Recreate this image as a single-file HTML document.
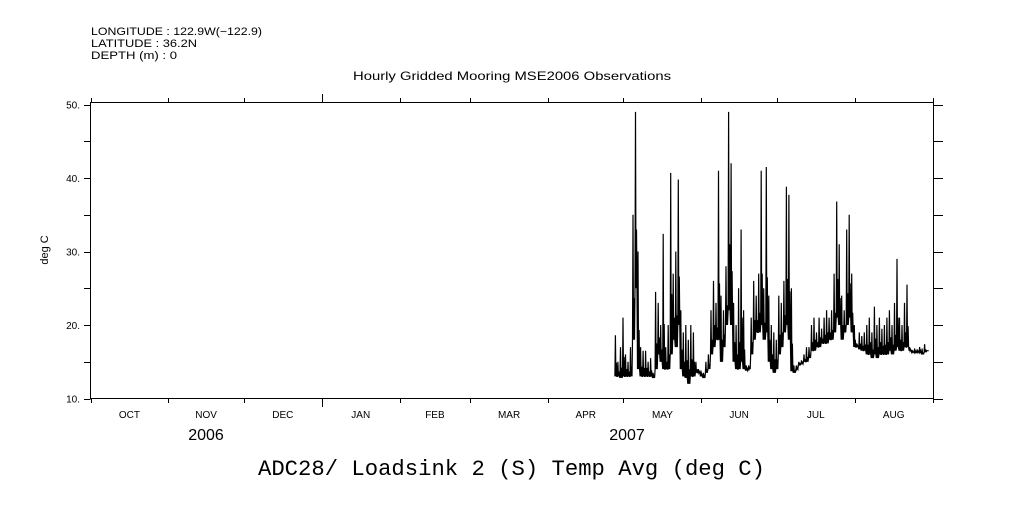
<!DOCTYPE html>
<html><head><meta charset="utf-8"><style>
body{margin:0;background:#fff;}
svg text{font-family:"Liberation Sans",sans-serif;fill:#000;}
</style></head><body>
<svg id="chart" width="1009" height="504" viewBox="0 0 1009 504">
<g font-size="11">
<text x="91" y="35" textLength="171" lengthAdjust="spacingAndGlyphs">LONGITUDE : 122.9W(−122.9)</text>
<text x="91" y="47" textLength="106" lengthAdjust="spacingAndGlyphs">LATITUDE : 36.2N</text>
<text x="91" y="59" textLength="86" lengthAdjust="spacingAndGlyphs">DEPTH (m) : 0</text>
</g>
<text x="353" y="80" font-size="12" textLength="318" lengthAdjust="spacingAndGlyphs">Hourly Gridded Mooring MSE2006 Observations</text>
<rect x="90.5" y="102.5" width="843" height="296" fill="none" stroke="#000" stroke-width="1"/>
<text transform="translate(48,250) rotate(-90)" font-size="11" text-anchor="middle">deg C</text>
<g id="axes"></g>
<path id="series" fill="none" stroke="#000" stroke-width="1.2"/>
<text x="206" y="440" font-size="16" text-anchor="middle">2006</text>
<text x="627" y="440" font-size="16" text-anchor="middle">2007</text>
<text x="258" y="475" font-size="22" textLength="507" lengthAdjust="spacingAndGlyphs" style="font-family:'Liberation Mono',monospace">ADC28/ Loadsink 2 (S) Temp Avg (deg C)</text>
</svg>
<script>
const months=["OCT","NOV","DEC","JAN","FEB","MAR","APR","MAY","JUN","JUL","AUG"];
const monthDays=[31,30,31,31,28,31,30,31,30,31,31];
const yTicks=[10,20,30,40,50];
const startDay=208.6;
const dailyLo=[13,13,12.8,13,13,13,13,18,25,14,13,13,13,13,13,12.8,14,16,15,14,14,14,16,18,17,20,14,13,12.8,12,13,13,13.5,13.5,13,12.8,13.5,14,16,17,18,18,15,17,20,22,20,15,14,14,15,14,13.8,14,16,18,19,19,20,18,19,15,14,13.5,14,16,17,19,20,18,13.7,13.5,14,14.6,14.7,15,15,15.5,16.5,16.5,17,17,17.5,17.5,17.5,18,18,19,21,20,18,19,20,21,19,17,17,16.7,16.5,16.5,16,16,15.5,16,15.5,16,16,16,16,16.5,16,16.5,17,16.5,16.5,17,17,16.5,16.3,16.2,16.3,16.2,16,16.3,16.5];
const dailyHi=[18.6,15,17,21,16,15,17,35,49,30,17,16.5,16.5,15,15.5,13.5,24.5,23,20,32.4,17,20,40.7,27,30,39.8,22,19,20,18,20,19,15,14,13.8,13.5,15,16,22,26,23,41,24,22,28,49,42,23,20,25,33,22,14.5,14.5,21,26,24,27,41,25,41.5,24,20,19,18,24,23,26,38.8,37.7,25,14.5,14.5,15,15.2,16,17,17,20,21,19,21,19.5,21,22,21,22,27,36.8,31,24,22,33,35,27,20,17.5,19,18.5,19,20,21,19,22.5,20,21,19.5,20,21,22,20,23,29,21,20,23,25.5,17,16.6,16.8,16.7,17,16.8,17.4,16.5];
const X0=90.5,PX_PER_DAY=2.514;
const xs=d=>X0+d*PX_PER_DAY;
const ys=v=>398.5-(v-10)*7.35;
const NS="http://www.w3.org/2000/svg";
const axes=document.getElementById('axes');
function line(x1,y1,x2,y2,name){const l=document.createElementNS(NS,'line');l.setAttribute('x1',x1);l.setAttribute('y1',y1);l.setAttribute('x2',x2);l.setAttribute('y2',y2);l.setAttribute('stroke','#000');


axes.appendChild(l);}
function text(x,y,s,anchor,size,name){const t=document.createElementNS(NS,'text');t.setAttribute('x',x);t.setAttribute('y',y);t.setAttribute('text-anchor',anchor);t.setAttribute('font-size',size);t.textContent=s;


axes.appendChild(t);}
let d=0;
for(let i=0;i<=months.length;i++){
  const x=Math.round(xs(d))+0.5;
  const big=(i===3);
  line(x,398.5,x,big?407:403,'x-tick');
  line(x,102.5,x,big?94:98,'x-tick-top');
  if(i<months.length){text(xs(d+monthDays[i]/2),418,months[i],'middle',10,'month-label');d+=monthDays[i];}
}
for(let v=10;v<=50;v+=5){const y=Math.round(ys(v))+0.5;line(84,y,90.5,y,'y-tick');line(933.5,y,943,y,'y-tick-right');}
yTicks.forEach(v=>text(80,ys(v)+4,v+'.','end',10,'y-tick-label'));
let p='';
for(let i=0;i<dailyLo.length;i++){
  const a=startDay+i,lo=dailyLo[i],hi=dailyHi[i],mid=(lo*2+hi)/3;
  p+=(i?'L':'M')+xs(a).toFixed(1)+' '+ys(lo).toFixed(1)
   +'L'+xs(a+0.2).toFixed(1)+' '+ys(hi).toFixed(1)
   +'L'+xs(a+0.4).toFixed(1)+' '+ys(lo).toFixed(1)
   +'L'+xs(a+0.6).toFixed(1)+' '+ys(mid).toFixed(1)
   +'L'+xs(a+0.8).toFixed(1)+' '+ys(lo).toFixed(1);
}
document.getElementById('series').setAttribute('d',p);
</script>
</body></html>
